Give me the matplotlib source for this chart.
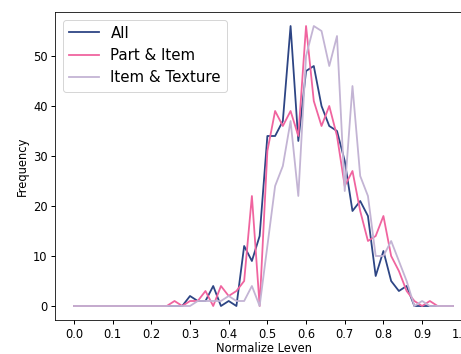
import matplotlib
matplotlib.use("Agg")
import matplotlib.pyplot as plt

x_bins = [0.00, 0.02, 0.04, 0.06, 0.08, 0.10, 0.12, 0.14, 0.16, 0.18,
          0.20, 0.22, 0.24, 0.26, 0.28, 0.30, 0.32, 0.34, 0.36, 0.38,
          0.40, 0.42, 0.44, 0.46, 0.48, 0.50, 0.52, 0.54, 0.56, 0.58,
          0.60, 0.62, 0.64, 0.66, 0.68, 0.70, 0.72, 0.74, 0.76, 0.78,
          0.80, 0.82, 0.84, 0.86, 0.88, 0.90, 0.92, 0.94, 0.96, 0.98]

all_counts = [0, 0, 0, 0, 0, 0, 0, 0, 0, 0,
              0, 0, 0, 0, 0, 2, 1, 1, 4, 0,
              1, 0, 12, 9, 14, 34, 34, 37, 56, 33,
              47, 48, 40, 36, 35, 29, 19, 21, 18, 6,
              11, 5, 3, 4, 0, 0, 0, 0, 0, 0]

part_item = [0, 0, 0, 0, 0, 0, 0, 0, 0, 0,
             0, 0, 0, 1, 0, 1, 1, 3, 0, 4,
             2, 3, 5, 22, 0, 31, 39, 36, 39, 34,
             56, 41, 36, 40, 34, 24, 27, 19, 13, 14,
             18, 10, 7, 3, 1, 0, 1, 0, 0, 0]

item_texture = [0, 0, 0, 0, 0, 0, 0, 0, 0, 0,
                0, 0, 0, 0, 0, 0, 1, 1, 1, 1,
                2, 1, 1, 4, 0, 12, 24, 28, 37, 22,
                50, 56, 55, 48, 54, 23, 44, 26, 22, 10,
                10, 13, 9, 5, 0, 1, 0, 0, 0, 0]

series_labels = ["All", "Part & Item", "Item & Texture"]
series_colors = ["#2d4584", "#f0649f", "#c3b4d4"]

plt.rcParams["font.size"] = 11.5

fig = plt.figure(figsize=(461 / 72, 354 / 72), dpi=72)
ax = fig.add_axes([55 / 461, 1 - 320 / 354, 417 / 461, 308 / 354])

for ys, lab, col in zip([all_counts, part_item, item_texture], series_labels, series_colors):
    ax.plot(x_bins, ys, color=col, label=lab, linewidth=1.8)

ax.set_xticks([0.0, 0.1, 0.2, 0.3, 0.4, 0.5, 0.6, 0.7, 0.8, 0.9, 1.0])
ax.tick_params(length=4, width=1)
ax.set_xlabel("Normalize Leven", labelpad=1.5)
ax.set_ylabel("Frequency")
ax.legend(loc="upper left", fontsize=15)

fig.savefig("out.png", dpi=72)
